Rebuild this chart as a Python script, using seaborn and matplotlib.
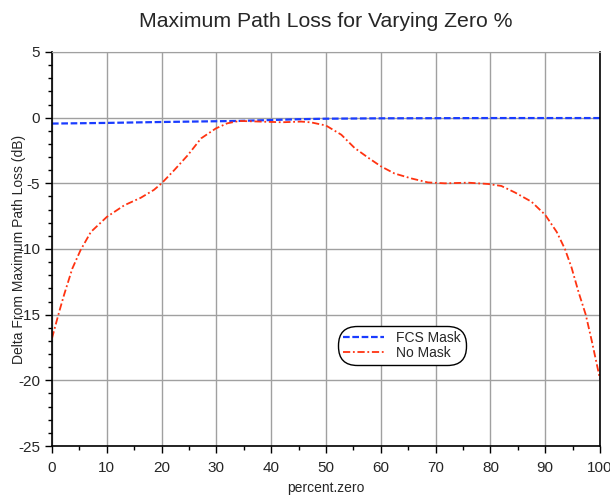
import pandas as pd
import matplotlib.pyplot as plt
import seaborn as sns
from matplotlib.ticker import MultipleLocator

# data
pct = [0, 1.3, 2.2, 3.7, 5.2, 7.1, 10, 13.2, 16.2, 18.6, 20, 22.3, 24.8, 27.2,
       29.9, 32, 34.2, 38, 42, 45.5, 47.3, 50, 52.8, 55.2, 57.7, 60, 62.5,
       65.6, 68.6, 71.7, 75.9, 79.6, 82, 84.5, 87.5, 90, 92.1, 93.6, 94.8,
       96.1, 97.4, 98.5, 100]
no_mask = [-16.8, -14.8, -13.5, -11.5, -10.1, -8.7, -7.56, -6.67, -6.1, -5.5,
           -5.0, -4.0, -2.85, -1.58, -0.82, -0.43, -0.25, -0.3, -0.35, -0.3,
           -0.36, -0.6, -1.3, -2.3, -3.05, -3.7, -4.25, -4.63, -4.93, -5.0,
           -4.95, -5.05, -5.2, -5.7, -6.4, -7.4, -8.7, -10.0, -11.4, -13.3,
           -15.0, -17.0, -19.9]
fcs_pct = [0, 10, 20, 34, 45, 50, 60, 70, 80, 90, 100]
fcs_mask = [-0.45, -0.4, -0.33, -0.25, -0.12, -0.08, -0.05, -0.04, -0.03, -0.03, -0.03]

sns.set_style("white")
plt.rcParams['font.family'] = ['Liberation Sans', 'DejaVu Sans']
plt.rcParams['axes.unicode_minus'] = False

fig = plt.figure(figsize=(6.1, 4.98), dpi=100)
ax = fig.add_axes([0.0852, 0.1044, 0.8984, 0.7912])

df_fcs = pd.DataFrame({'x': fcs_pct, 'y': fcs_mask})
df_no = pd.DataFrame({'x': pct, 'y': no_mask})

sns.lineplot(data=df_fcs, x='x', y='y', ax=ax, color='#1a3cff', linestyle=(0, (3, 1.2)),
             linewidth=1.6, label='FCS Mask')
sns.lineplot(data=df_no, x='x', y='y', ax=ax, color='#ff3311', linestyle=(0, (4, 1.5, 1, 1.5)),
             linewidth=1.3, label='No Mask')

ax.set_xlim(0, 100)
ax.set_ylim(-25, 5)
ax.xaxis.set_major_locator(MultipleLocator(10))
ax.xaxis.set_minor_locator(MultipleLocator(5))
ax.yaxis.set_major_locator(MultipleLocator(5))
ax.yaxis.set_minor_locator(MultipleLocator(1))
ax.grid(True, which='major', color='#a0a0a0', linewidth=1.0)
ax.tick_params(which='major', direction='out', length=5, width=1, labelsize=11,
               bottom=True, left=True, color='black')
ax.tick_params(which='minor', direction='out', length=3, width=1,
               bottom=True, left=True, color='black')
ax.tick_params(axis='x', pad=6)
for side in ['left', 'bottom', 'right']:
    ax.spines[side].set_color('black')
    ax.spines[side].set_linewidth(1.2)
ax.spines['top'].set_color('#a0a0a0')

ax.set_xlabel('percent.zero', fontsize=10)
ax.set_ylabel('Delta From Maximum Path Loss (dB)', fontsize=10)
ax.yaxis.set_label_coords(-0.048, 0.5)
ax.set_title('Maximum Path Loss for Varying Zero %', fontsize=15.3, pad=18)

leg = ax.legend(loc='upper left', bbox_to_anchor=(0.514, 0.316), frameon=True,
                fontsize=10, handlelength=2.9, borderpad=0.2, labelspacing=0.05,
                handletextpad=0.9, fancybox=True, framealpha=1)
frame = leg.get_frame()
frame.set_edgecolor('black')
frame.set_linewidth(1.0)
frame.set_boxstyle('round', pad=0.2, rounding_size=1.4)

fig.savefig('out.png', dpi=100)
